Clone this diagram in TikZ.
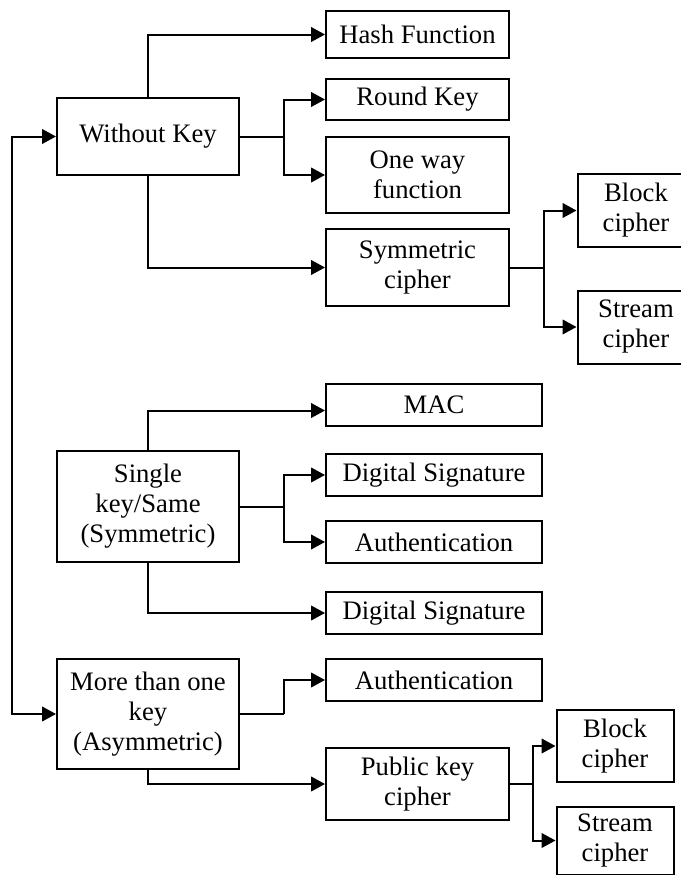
\documentclass[tikz,border=0pt]{standalone}
\usepackage{fontspec}
\setmainfont{Liberation Serif}
\usetikzlibrary{arrows.meta,calc}

\begin{document}
\begin{tikzpicture}[
  x=0.75pt, y=-0.75pt,
  box/.style={draw, line width=1.5pt, inner sep=0pt, align=center,
    font=\fontsize{20}{22.5}\selectfont},
  link/.style={line width=1.5pt},
  tip/.tip={Triangle[length=10.5pt,width=11pt]},
  arr/.style={link, -tip},
]
\useasboundingbox (0,0) rectangle (681,875);

% --- key classes on the left
\node[box, minimum width=136.5pt, minimum height=57.75pt] (wk) at (148,136.5) {Without Key};
\node[box, minimum width=136.5pt, minimum height=83.25pt] (sk) at (148,506.5) {Single\\key/Same\\(Symmetric)};
\node[box, minimum width=136.5pt, minimum height=82.5pt] (mk) at (148,714) {More than one\\key\\(Asymmetric)};

% --- without key
\node[box, minimum width=137.25pt, minimum height=35.25pt] (hash) at (417.5,34.5) {Hash Function};
\node[box, minimum width=137.25pt, minimum height=30.75pt] (round) at (417.5,99.5) {Round Key};
\node[box, minimum width=137.25pt, minimum height=57pt] (oneway) at (417.5,175) {One way\\function};
\node[box, minimum width=137.25pt, minimum height=57.75pt] (symm) at (417.5,267.5) {Symmetric\\cipher};
\node[box, minimum width=87.75pt, minimum height=54.75pt] (block1) at (636,210.5) {Block\\cipher};
\node[box, minimum width=87.75pt, minimum height=54.75pt] (stream1) at (636,327) {Stream\\cipher};

% --- single key
\node[box, minimum width=162pt, minimum height=31.5pt] (mac) at (434,405) {MAC};
\node[box, minimum width=162pt, minimum height=31.5pt] (ds1) at (434,475) {Digital Signature};
\node[box, minimum width=162pt, minimum height=31.5pt] (auth1) at (434,542) {Authentication};
\node[box, minimum width=162pt, minimum height=31pt] (ds2) at (434,613) {Digital Signature};

% --- more than one key
\node[box, minimum width=162pt, minimum height=31pt] (auth2) at (434,680) {Authentication};
\node[box, minimum width=137.25pt, minimum height=54pt] (pk) at (417.5,784) {Public key\\cipher};
\node[box, minimum width=87.75pt, minimum height=54pt] (block2) at (615,746) {Block\\cipher};
\node[box, minimum width=87.75pt, minimum height=51pt] (stream2) at (615,840.5) {Stream\\cipher};

% --- branch points
\coordinate (L) at (12,0);
\coordinate (f1) at ($(wk.east)+(44,0)$);
\coordinate (f2) at ($(symm.east)+(34,0)$);
\coordinate (f3) at ($(sk.east)+(44,0)$);
\coordinate (f4) at ($(mk.east)+(44,0)$);
\coordinate (f5) at ($(pk.east)+(23,0)$);

% --- connectors
\draw[link, tip-tip]
  (wk.west) -- (wk.west -| L) -- (mk.west -| L) -- (mk.west);

\draw[arr] (wk.north) |- (hash.west);
\draw[link] (wk.east) -- (f1);
\draw[arr] (f1) |- (round.west);
\draw[arr] (f1) |- (oneway.west);
\draw[arr] (wk.south) |- (symm.west);
\draw[link] (symm.east) -- (f2);
\draw[arr] (f2) |- (block1.west);
\draw[arr] (f2) |- (stream1.west);

\draw[arr] (sk.north) |- ($(mac.west)+(0,5.5)$);
\draw[link] (sk.east) -- (f3);
\draw[arr] (f3) |- (ds1.west);
\draw[arr] (f3) |- (auth1.west);
\draw[arr] (sk.south) |- (ds2.west);

\draw[link] (mk.east) -- (f4);
\draw[arr] (f4) |- (auth2.west);
\draw[arr] (mk.south) |- (pk.west);
\draw[link] (pk.east) -- (f5);
\draw[arr] (f5) |- (block2.west);
\draw[arr] (f5) |- (stream2.west);
\end{tikzpicture}
\end{document}
